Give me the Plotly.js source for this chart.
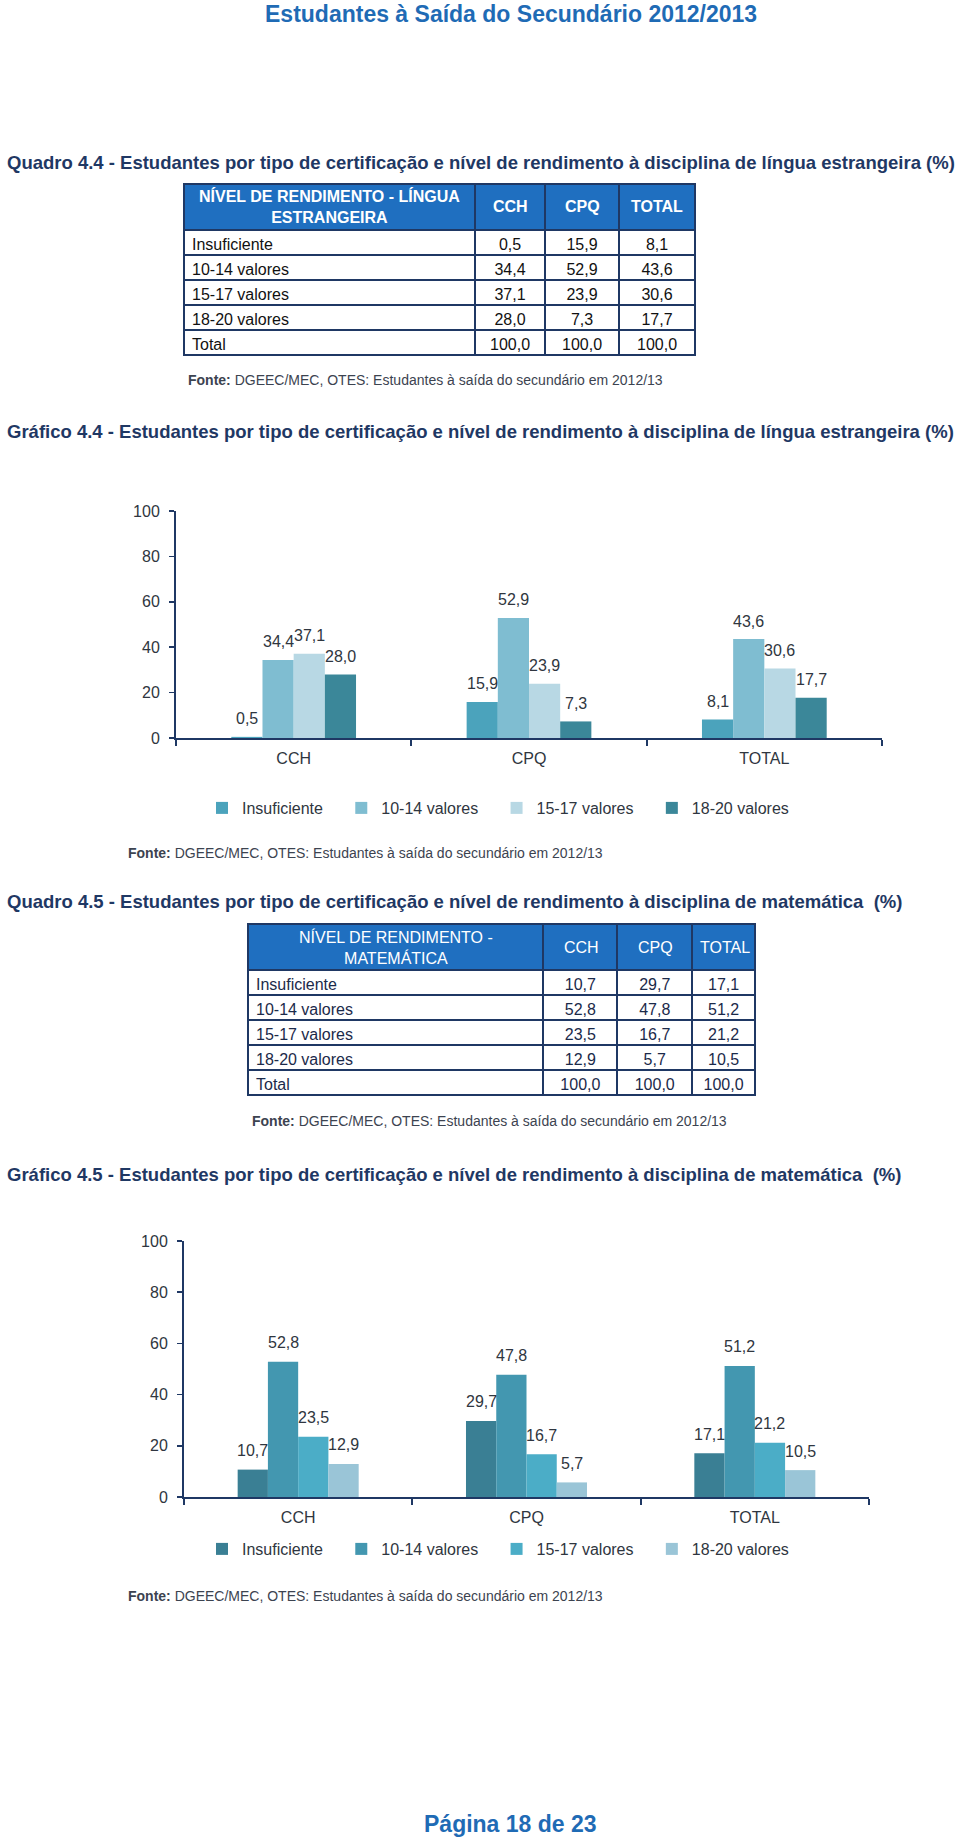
<!DOCTYPE html>
<html><head><meta charset="utf-8">
<script src="https://cdn.plot.ly/plotly-3.0.1.min.js"></script>
<style>html,body{margin:0;padding:0;background:#fff;} #chart{width:960px;height:1839px;}</style>
</head><body><div id="chart"></div>
<script>
// ---------- data ----------
const categories = ['CCH', 'CPQ', 'TOTAL'];
const levels = ['Insuficiente', '10-14 valores', '15-17 valores', '18-20 valores'];
const totalRowLabel = 'Total';
// Quadro / Gráfico 4.4 - língua estrangeira
const lingInsuf = [0.5, 15.9, 8.1];
const ling1014 = [34.4, 52.9, 43.6];
const ling1517 = [37.1, 23.9, 30.6];
const ling1820 = [28.0, 7.3, 17.7];
const lingTotal = [100.0, 100.0, 100.0];
// Quadro / Gráfico 4.5 - matemática
const matInsuf = [10.7, 29.7, 17.1];
const mat1014 = [52.8, 47.8, 51.2];
const mat1517 = [23.5, 16.7, 21.2];
const mat1820 = [12.9, 5.7, 10.5];
const matTotal = [100.0, 100.0, 100.0];
const yTicks = [0, 20, 40, 60, 80, 100];

// ---------- styles ----------
const W = 960, H = 1839;
const FONT = 'Liberation Sans, Arial, sans-serif';
const NAVY = '#1F3864';
const BLUE = '#1F6BB5';
const HEAD_FILL = '#1F6FC0';
const TXT = '#2F3640';
const SRC = '#3C4350';
const colors1 = ['#4BA3BC', '#7FBDD1', '#B8D8E4', '#3B8799'];
const colors2 = ['#3A7F94', '#4397B0', '#4BADC7', '#9AC5D7'];
const BARGAP = 0.47;
const HEAD_H = 46, ROW_H = 25;
const px = x => x / W;
const py = y => 1 - y / H;
const fmt = v => v.toFixed(1).replace('.', ',');
const nb = s => s.replace(/ /g, '\u00a0');
const legPad = '\u00a0\u00a0\u00a0';

const lingSeries = [lingInsuf, ling1014, ling1517, ling1820];
const matSeries = [matInsuf, mat1014, mat1517, mat1820];

const traces = [];
const annotations = [];

function tableCells(series, total) {
  const cols = [levels.map(nb).concat(totalRowLabel)];
  categories.forEach((c, j) => {
    cols.push(series.map(s => fmt(s[j])).concat(fmt(total[j])));
  });
  return cols;
}

// left, top: table position in px; colw: column widths in px
function makeTable(headerFirst, series, total, left, top, colw, headBold, bodyColor) {
  const width = colw.reduce((a, b) => a + b, 0);
  const nRows = series.length + 1;
  traces.push({
    type: 'table',
    domain: {x: [px(left), px(left + width)], y: [py(top + HEAD_H + nRows * ROW_H + 30), py(top)]},
    columnwidth: colw,
    header: {
      values: colw.map(() => ['']),
      fill: {color: HEAD_FILL},
      line: {color: NAVY, width: 2},
      height: HEAD_H
    },
    cells: {
      values: tableCells(series, total),
      fill: {color: '#ffffff'},
      line: {color: NAVY, width: 2},
      align: ['left', 'center', 'center', 'center'],
      height: ROW_H,
      font: {family: FONT, size: 16, color: bodyColor}
    }
  });
  // header labels, centred in the header cells
  const hdr = [headerFirst].concat(categories);
  let x0 = left;
  hdr.forEach((t, k) => {
    annotations.push({xref: 'paper', yref: 'paper', x: px(x0 + colw[k] / 2), y: py(top + HEAD_H / 2),
      text: headBold ? '<b>' + t + '</b>' : t, showarrow: false, xanchor: 'center', yanchor: 'middle',
      align: 'center', font: {family: FONT, size: 16, color: '#ffffff'}});
    x0 += colw[k];
  });
}

makeTable('NÍVEL DE RENDIMENTO - LÍNGUA<br>ESTRANGEIRA', lingSeries, lingTotal,
  184, 184, [291, 70, 74, 76], true, '#111111');
makeTable('NÍVEL DE RENDIMENTO -<br>MATEMÁTICA', matSeries, matTotal,
  248, 924, [296, 74, 75, 63], false, '#1B2A4A');

function addBars(series, cols, xa, ya, leg) {
  series.forEach((s, i) => {
    traces.push({
      type: 'bar', x: categories, y: s, name: levels[i] + legPad,
      xaxis: xa, yaxis: ya, legend: leg,
      marker: {color: cols[i], line: {width: 0}},
      hoverinfo: 'skip'
    });
  });
}
addBars(lingSeries, colors1, 'x', 'y', 'legend');
addBars(matSeries, colors2, 'x2', 'y2', 'legend2');

function labels(series, xr, yr, shift) {
  const w = (1 - BARGAP) / series.length;
  series.forEach((s, i) => {
    s.forEach((v, j) => {
      annotations.push({
        xref: xr, yref: yr, x: j + (i - (series.length - 1) / 2) * w, y: v,
        text: fmt(v), showarrow: false, yanchor: 'middle', xanchor: 'center', yshift: shift,
        font: {family: FONT, size: 16, color: TXT}
      });
    });
  });
}
labels(lingSeries, 'x', 'y', 18);
labels(matSeries, 'x2', 'y2', 19);

function txt(x, y, text, size, color, anchor) {
  annotations.push({xref: 'paper', yref: 'paper', x: px(x), y: py(y), text: text,
    showarrow: false, xanchor: anchor || 'left', yanchor: 'middle',
    font: {family: FONT, size: size, color: color}});
}
const fonte = '<b>Fonte:</b> DGEEC/MEC, OTES: Estudantes à saída do secundário em 2012/13';
const TS = 18.5;
txt(511, 14, '<b>Estudantes à Saída do Secundário 2012/2013</b>', 23, BLUE, 'center');
txt(5, 162, '<b>Quadro 4.4 - Estudantes por tipo de certificação e nível de rendimento à disciplina de língua estrangeira (%)</b>', TS, NAVY);
txt(186, 380, fonte, 14, SRC);
txt(5, 431, '<b>Gráfico 4.4 - Estudantes por tipo de certificação e nível de rendimento à disciplina de língua estrangeira (%)</b>', TS, NAVY);
txt(126, 853, fonte, 14, SRC);
txt(5, 901, '<b>Quadro 4.5 - Estudantes por tipo de certificação e nível de rendimento à disciplina de matemática\u00a0 (%)</b>', TS, NAVY);
txt(250, 1121, fonte, 14, SRC);
txt(5, 1174, '<b>Gráfico 4.5 - Estudantes por tipo de certificação e nível de rendimento à disciplina de matemática\u00a0 (%)</b>', TS, NAVY);
txt(126, 1596, fonte, 14, SRC);
txt(510, 1824, '<b>Página 18 de 23</b>', 23, BLUE, 'center');

function xAxis(dom, anchor) {
  return {domain: dom, anchor: anchor, type: 'category', showline: true, linecolor: NAVY, linewidth: 2,
    ticks: 'outside', tickson: 'boundaries', ticklen: 6, tickwidth: 2, tickcolor: NAVY,
    tickfont: {family: FONT, size: 16, color: TXT}, ticklabelstandoff: 5,
    showgrid: false, zeroline: false, fixedrange: true};
}
function yAxis(dom, anchor) {
  return {domain: dom, anchor: anchor, range: [0, 100], tickvals: yTicks, showline: true, linecolor: NAVY, linewidth: 2,
    ticks: 'outside', ticklen: 5, tickwidth: 1.5, tickcolor: NAVY, ticklabelstandoff: 6,
    tickfont: {family: FONT, size: 16, color: TXT}, showgrid: false, zeroline: false, fixedrange: true};
}
function legendDef(y) {
  return {orientation: 'h', x: px(202), xanchor: 'left', y: py(y), yanchor: 'middle',
    bgcolor: 'rgba(0,0,0,0)', borderwidth: 0,
    font: {family: FONT, size: 16, color: TXT}, traceorder: 'normal'};
}

const layout = {
  width: W, height: H, margin: {l: 0, r: 0, t: 0, b: 0},
  paper_bgcolor: '#ffffff', plot_bgcolor: 'rgba(0,0,0,0)',
  font: {family: FONT, color: TXT},
  barmode: 'group', bargap: BARGAP, bargroupgap: 0,
  showlegend: true,
  xaxis: xAxis([px(176), px(882)], 'y'),
  yaxis: yAxis([py(738), py(511)], 'x'),
  xaxis2: xAxis([px(184), px(869)], 'y2'),
  yaxis2: yAxis([py(1497), py(1241)], 'x2'),
  legend: legendDef(808),
  legend2: legendDef(1549),
  annotations: annotations
};

Plotly.newPlot('chart', traces, layout, {displayModeBar: false, staticPlot: true});
</script>
</body></html>
